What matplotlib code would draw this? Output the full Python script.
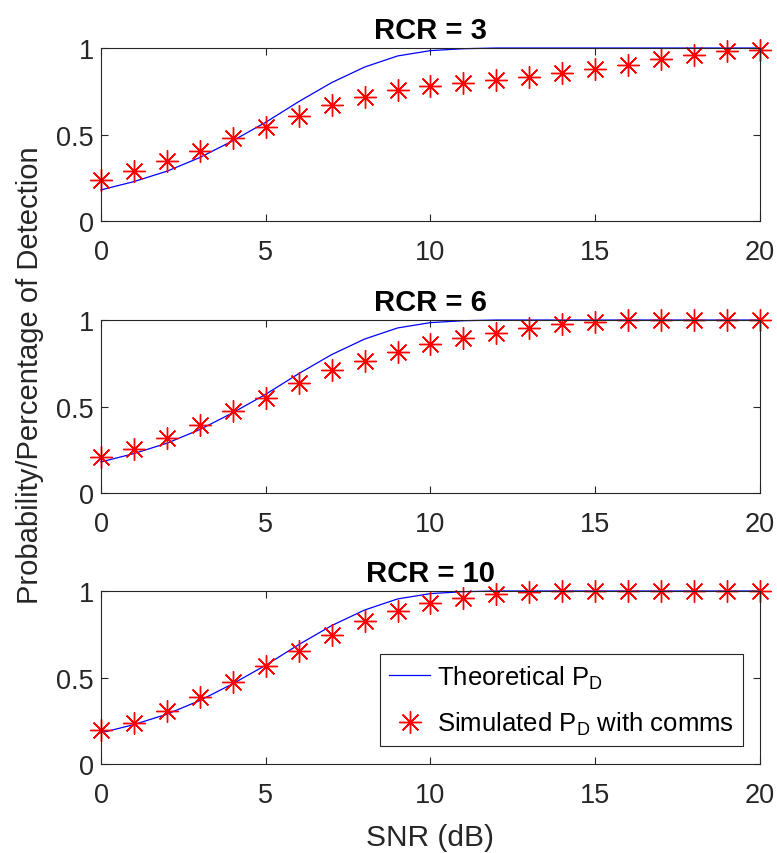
import numpy as np
import matplotlib
matplotlib.use("Agg")
import matplotlib.pyplot as plt

plt.rcParams['font.family'] = ['Liberation Sans', 'DejaVu Sans']
plt.rcParams['mathtext.fontset'] = 'custom'
plt.rcParams['mathtext.rm'] = 'Liberation Sans'
plt.rcParams['mathtext.it'] = 'Liberation Sans'

# SNR axis (dB)
snr = np.arange(0, 21)

# theoretical PD, same in every panel
pd_theory = [0.18, 0.228, 0.288, 0.367, 0.464, 0.571, 0.69, 0.80, 0.89, 0.954,
             0.985, 0.996, 1.0, 1.0, 1.0, 1.0, 1.0, 1.0, 1.0, 1.0, 1.0]

# simulated PD with comms, one list per RCR
pd_rcr3 = [0.236, 0.29, 0.348, 0.406, 0.48, 0.545, 0.605, 0.671, 0.718, 0.758,
           0.783, 0.797, 0.816, 0.832, 0.853, 0.88, 0.903, 0.934, 0.957, 0.981, 0.99]
pd_rcr6 = [0.207, 0.255, 0.319, 0.393, 0.474, 0.551, 0.634, 0.712, 0.764, 0.816,
           0.863, 0.894, 0.925, 0.952, 0.975, 0.99, 1.0, 1.0, 1.0, 1.0, 1.0]
pd_rcr10 = [0.197, 0.236, 0.307, 0.386, 0.473, 0.566, 0.654, 0.743, 0.826, 0.884,
            0.932, 0.961, 0.981, 0.994, 0.998, 1.0, 1.0, 1.0, 1.0, 1.0, 1.0]

rcr_values = [3, 6, 10]
sim_sets = [pd_rcr3, pd_rcr6, pd_rcr10]

fig = plt.figure(figsize=(7.77, 8.54), dpi=100)

# axes boxes (left, bottom, width, height) in figure fraction
boxes = [[0.130, 0.740, 0.848, 0.2026],
         [0.130, 0.4215, 0.848, 0.2026],
         [0.130, 0.1042, 0.848, 0.2026]]

axc = '0.15'
asterisk = (8, 2, 0)

for box, rcr, sim in zip(boxes, rcr_values, sim_sets):
    ax = fig.add_axes(box)
    ax.plot(snr, pd_theory, color='blue', lw=0.9, label=r'Theoretical P$_{\mathrm{D}}$')
    ax.plot(snr, sim, ls='none', marker=asterisk, ms=16, mew=1.0, color='red',
            label=r'Simulated P$_{\mathrm{D}}$ with comms')
    ax.set_xlim(0, 20)
    ax.set_ylim(0, 1)
    ax.set_xticks([0, 5, 10, 15, 20])
    ax.set_yticks([0, 0.5, 1])
    ax.set_yticklabels(['0', '0.5', '1'])
    ax.tick_params(direction='in', top=True, right=True, labelsize=19.5,
                   colors=axc, length=5, width=0.8)
    ax.tick_params(axis='x', pad=13)
    ax.tick_params(axis='y', pad=5)
    for s in ax.spines.values():
        s.set_color(axc)
        s.set_linewidth(0.8)
    ax.set_title('RCR = %d' % rcr, fontsize=21, fontweight='bold', pad=7)
    for line in ax.lines:
        line.set_clip_on(False)

last = fig.axes[-1]
leg = last.legend(loc='lower right', bbox_to_anchor=(0.974, 0.104), fontsize=18.5,
                  frameon=True, fancybox=False, edgecolor=axc, framealpha=1,
                  handlelength=1.6, borderpad=0.35, labelspacing=0.75,
                  handletextpad=0.25, borderaxespad=0)
leg.get_frame().set_linewidth(0.8)

fig.text(0.5 * (0.130 + 0.978), 0.0094, 'SNR (dB)', fontsize=21.5, color=axc,
         ha='center', va='baseline')
fig.text(0.039, 0.561, 'Probability/Percentage of Detection', rotation=90,
         fontsize=21, color=axc, ha='center', va='center')

fig.savefig('out.png', dpi=100)
